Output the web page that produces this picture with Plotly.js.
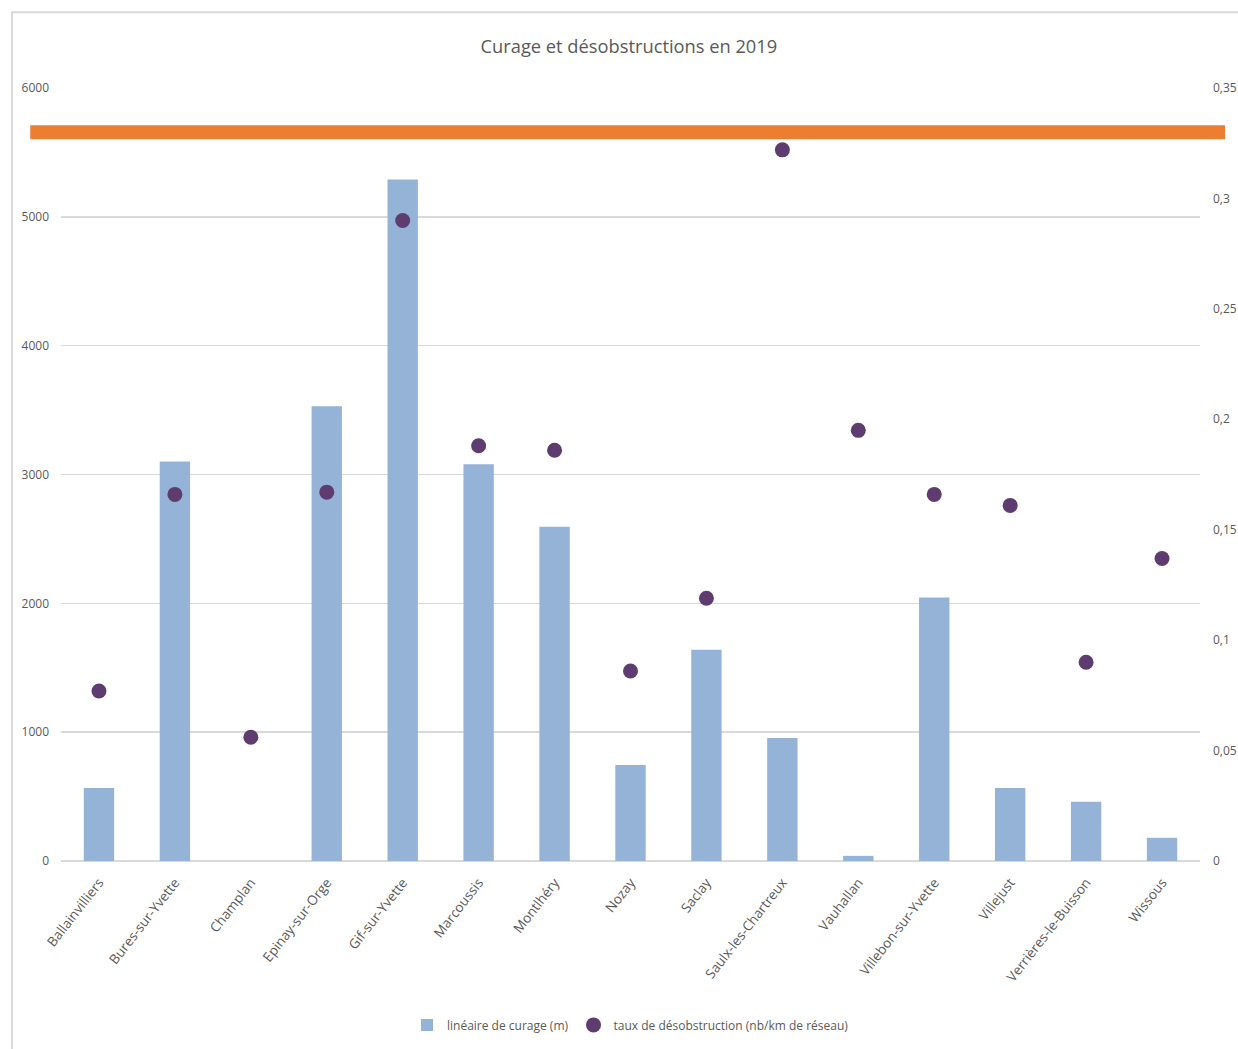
<!DOCTYPE html>
<html>
<head>
<meta charset="utf-8">
<script src="https://cdn.plot.ly/plotly-3.0.1.min.js"></script>
<style>html,body{margin:0;padding:0;background:#fff;}#chart{width:1238px;height:1049px;}</style>
</head>
<body>
<div id="chart"></div>
<script>
const communes = ["Ballainvilliers","Bures-sur-Yvette","Champlan","Epinay-sur-Orge","Gif-sur-Yvette","Marcoussis","Montlhéry","Nozay","Saclay","Saulx-les-Chartreux","Vauhallan","Villebon-sur-Yvette","Villejust","Verrières-le-Buisson","Wissous"];
const lineaireCurage = [567, 3100, 0, 3530, 5290, 3080, 2595, 745, 1640, 955, 40, 2045, 567, 460, 180];
const tauxDesobstruction = [0.077, 0.166, 0.056, 0.167, 0.290, 0.188, 0.186, 0.086, 0.119, 0.322, 0.195, 0.166, 0.161, 0.090, 0.137];
const seuilTaux = 0.33;

const textColor = "#595959";
const font = "Open Sans, Noto Sans, sans-serif";

const traces = [
  {
    type: "bar",
    name: "linéaire de curage (m)",
    x: communes,
    y: lineaireCurage,
    marker: {color: "#95b3d7"},
    yaxis: "y"
  },
  {
    type: "scatter",
    mode: "markers",
    name: "taux de désobstruction (nb/km de réseau)",
    x: communes,
    y: tauxDesobstruction,
    marker: {color: "#5e3c6f", size: 15, symbol: "circle"},
    yaxis: "y2"
  }
];

const layout = {
  width: 1238,
  height: 1049,
  paper_bgcolor: "#ffffff",
  plot_bgcolor: "#ffffff",
  separators: ", ",
  margin: {l: 61, r: 38, t: 88, b: 188, autoexpand: false},
  font: {family: font, color: textColor, size: 13},
  title: {text: "Curage et désobstructions en 2019", x: 0.508, xanchor: "center", y: 0.956, yanchor: "middle", font: {family: font, size: 18.3, color: textColor}},
  bargap: 0.6,
  showlegend: true,
  legend: {orientation: "h", x: 0.5, xanchor: "center", y: -0.212, yanchor: "middle", font: {size: 12, color: textColor}, itemwidth: 30},
  xaxis: {
    type: "category",
    range: [-0.5, communes.length - 0.5],
    automargin: false,
    tickangle: -52,
    tickfont: {size: 13.5, color: textColor},
    ticklabelstandoff: 10,
    showgrid: false,
    showline: false,
    ticks: "",
    zeroline: false
  },
  yaxis: {
    range: [0, 6000],
    automargin: false,
    dtick: 1000,
    tick0: 0,
    showgrid: true,
    gridcolor: "#d9d9d9",
    gridwidth: 1.5,
    zeroline: true,
    zerolinecolor: "#d9d9d9",
    zerolinewidth: 1.5,
    showline: false,
    ticks: "",
    tickfont: {size: 12, color: textColor},
    ticklabelstandoff: 11
  },
  yaxis2: {
    overlaying: "y",
    side: "right",
    automargin: false,
    range: [0, 0.35],
    dtick: 0.05,
    tick0: 0,
    showgrid: false,
    zeroline: false,
    showline: false,
    ticks: "",
    tickfont: {size: 12, color: textColor},
    ticklabelstandoff: 12
  },
  shapes: [
    {
      type: "rect", xref: "paper", yref: "paper",
      x0: -0.043, x1: 1.1, y0: -0.3, y1: 1.098,
      line: {color: "#d9d9d9", width: 2}, fillcolor: "rgba(0,0,0,0)", layer: "below"
    },
    {
      type: "line", xref: "paper", yref: "y2",
      x0: -0.027, x1: 1.022, y0: seuilTaux, y1: seuilTaux,
      line: {color: "#ed7d31", width: 14}, layer: "above"
    }
  ]
};

Plotly.newPlot("chart", traces, layout, {displayModeBar: false, staticPlot: true});
</script>
</body>
</html>
